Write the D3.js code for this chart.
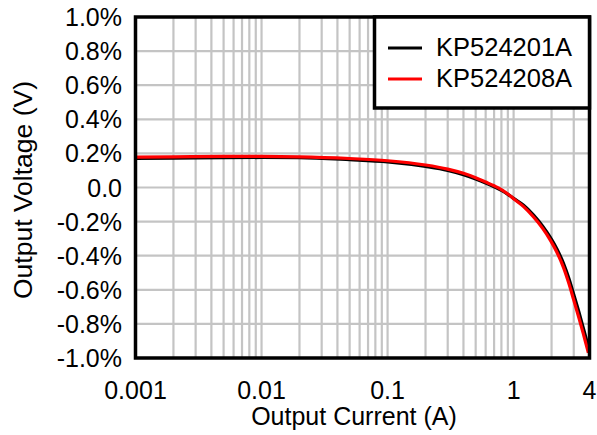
<!DOCTYPE html>
<html>
<head>
<meta charset="utf-8">
<script src="https://cdn.jsdelivr.net/npm/d3@7"></script>
<style>
  html, body { margin: 0; padding: 0; background: #fff; }
  svg { display: block; font-family: "Liberation Sans", Arial, sans-serif; }
</style>
</head>
<body>
<svg id="chart" width="597" height="435"></svg>
<script>
// ---- data ----
const seriesNames = ["KP524201A", "KP524208A"];
const seriesColors = ["#000000", "#ff0000"];

const currentBlack = [0.001, 0.002, 0.005, 0.01, 0.02, 0.05, 0.1, 0.2, 0.3, 0.4, 0.5, 0.6, 0.7, 0.8, 0.9, 1.0, 1.2, 1.44, 1.7, 1.96, 2.2, 2.49, 2.75, 3.0, 3.3, 3.58, 3.84, 3.98];
const kp524201A = [0.170, 0.172, 0.175, 0.176, 0.175, 0.163, 0.150, 0.123, 0.100, 0.075, 0.050, 0.026, 0.004, -0.017, -0.040, -0.064, -0.104, -0.162, -0.227, -0.294, -0.359, -0.446, -0.535, -0.628, -0.732, -0.827, -0.910, -0.952];

const currentRed = [0.001, 0.002, 0.005, 0.01, 0.02, 0.05, 0.1, 0.2, 0.3, 0.4, 0.5, 0.6, 0.7, 0.8, 0.9, 1.0, 1.2, 1.44, 1.7, 1.96, 2.2, 2.49, 2.75, 3.0, 3.3, 3.58, 3.84, 3.92];
const kp524208A = [0.178, 0.180, 0.182, 0.182, 0.180, 0.170, 0.157, 0.132, 0.108, 0.083, 0.057, 0.032, 0.010, -0.012, -0.038, -0.066, -0.112, -0.173, -0.240, -0.310, -0.378, -0.470, -0.565, -0.660, -0.765, -0.860, -0.945, -0.970];

const yTickValues = [1.0, 0.8, 0.6, 0.4, 0.2, 0.0, -0.2, -0.4, -0.6, -0.8, -1.0];
const yTickLabels = ["1.0%", "0.8%", "0.6%", "0.4%", "0.2%", "0.0", "-0.2%", "-0.4%", "-0.6%", "-0.8%", "-1.0%"];
const xTickValues = [0.001, 0.01, 0.1, 1, 4];
const xTickLabels = ["0.001", "0.01", "0.1", "1", "4"];
const xGridValues = [0.002,0.003,0.004,0.005,0.006,0.007,0.008,0.009,0.01,0.02,0.03,0.04,0.05,0.06,0.07,0.08,0.09,0.1,0.2,0.3,0.4,0.5,0.6,0.7,0.8,0.9,1,2,3];

const xTitle = "Output Current (A)";
const yTitle = "Output Voltage (V)";

// ---- layout ----
const L = 135.5, R = 589.5, T = 17, B = 358;
const svg = d3.select("#chart");
const x = d3.scaleLog().domain([0.001, 4]).range([L, R]);
const y = d3.scaleLinear().domain([-1, 1]).range([B, T]);

// grid
const grid = svg.append("g").attr("stroke", "#c4c4c4").attr("stroke-width", 2.2);
grid.selectAll("line.v").data(xGridValues).join("line")
  .attr("x1", d => x(d)).attr("x2", d => x(d)).attr("y1", T).attr("y2", B);
grid.selectAll("line.h").data(yTickValues.filter(v => Math.abs(v) < 0.99)).join("line")
  .attr("x1", L).attr("x2", R).attr("y1", d => y(d)).attr("y2", d => y(d));

// curves
const seriesData = [[currentBlack, kp524201A], [currentRed, kp524208A]];
const line = d3.line().x(d => x(d[0])).y(d => y(d[1])).curve(d3.curveMonotoneX);
seriesData.forEach(([xs, vals], i) => {
  svg.append("path")
    .datum(xs.map((c, j) => [c, vals[j]]))
    .attr("fill", "none")
    .attr("stroke", seriesColors[i])
    .attr("stroke-width", 3.2)
    .attr("stroke-linejoin", "round")
    .attr("d", line);
});

// frame
svg.append("rect").attr("x", L).attr("y", T).attr("width", R - L).attr("height", B - T)
  .attr("fill", "none").attr("stroke", "#000").attr("stroke-width", 3.5);

// y tick labels
svg.append("g").selectAll("text").data(yTickValues).join("text")
  .attr("x", 122).attr("y", d => y(d)).attr("dy", "0.36em")
  .attr("text-anchor", "end").attr("font-size", 25).attr("fill", "#000")
  .text((d, i) => yTickLabels[i]);

// x tick labels
svg.append("g").selectAll("text").data(xTickValues).join("text")
  .attr("x", d => x(d)).attr("y", 398.5)
  .attr("text-anchor", "middle").attr("font-size", 25).attr("fill", "#000")
  .text((d, i) => xTickLabels[i]);

// titles
svg.append("text").attr("x", 354).attr("y", 425).attr("text-anchor", "middle")
  .attr("font-size", 25).text(xTitle);
svg.append("text").attr("transform", "translate(31.5,190) rotate(-90)")
  .attr("text-anchor", "middle").attr("font-size", 26.5).text(yTitle);

// legend
const lg = svg.append("g");
lg.append("rect").attr("x", 374.5).attr("y", T).attr("width", R - 374.5).attr("height", 91)
  .attr("fill", "#fff").attr("stroke", "#000").attr("stroke-width", 3.5);
seriesNames.forEach((name, i) => {
  const yy = 48 + i * 31;
  lg.append("line").attr("x1", 388).attr("x2", 422).attr("y1", yy).attr("y2", yy)
    .attr("stroke", seriesColors[i]).attr("stroke-width", 3);
  lg.append("text").attr("x", 436).attr("y", yy + 7.5).attr("font-size", 25.5).text(name);
});
</script>
</body>
</html>
